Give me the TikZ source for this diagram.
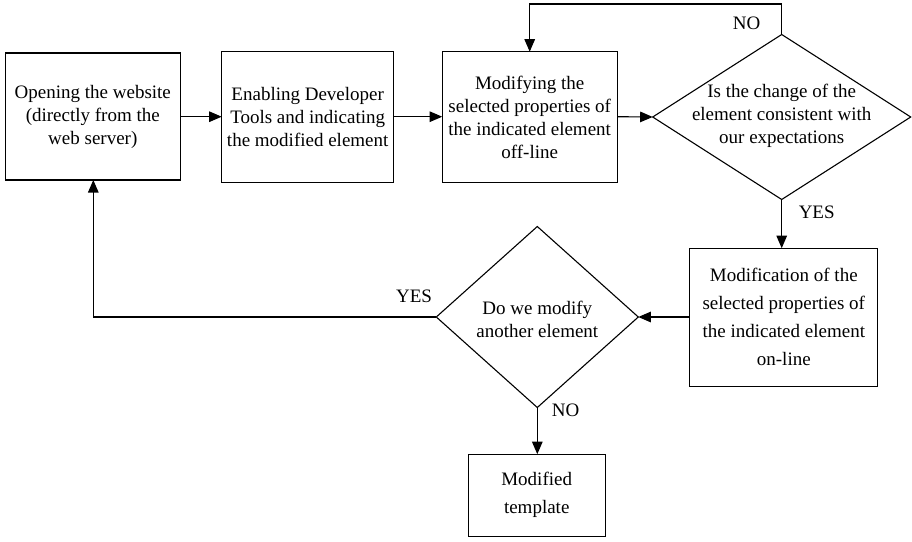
\documentclass[tikz,border=0pt]{standalone}
\usepackage{fontspec}
\setmainfont{Liberation Serif}
\usetikzlibrary{shapes.geometric,arrows.meta}
\begin{document}
\begin{tikzpicture}[x=1pt,y=-1pt,
  line width=1.1pt,
  every node/.style={font=\fontsize{19}{23}\selectfont, inner sep=0pt, outer sep=0pt},
  box/.style={draw, rectangle, align=center},
  widebox/.style={box, font=\fontsize{19}{28}\selectfont},
  txt/.style={align=center},
  lbl/.style={},
  arr/.style={-{Triangle[length=12.5pt,width=10.5pt]}}]
\useasboundingbox (0,0) rectangle (912,541);
\node[box, minimum width=175pt, minimum height=127pt] (b1) at (92.8,116.5)
  {Opening the website\\(directly from the\\web server)};
\node[box, minimum width=172pt, minimum height=131pt] (b2) at (307.7,117.3)
  {Enabling Developer\\Tools and indicating\\the modified element};
\node[box, minimum width=175pt, minimum height=131pt] (b3) at (529.7,117.2)
  {Modifying the\\selected properties of\\the indicated element\\off-line};
\node[draw, diamond, minimum width=258pt, minimum height=165pt] (d1) at (781.7,117) {};
\node[txt] at (781.7,116) {Is the change of the\\element consistent with\\our expectations};
\node[widebox, minimum width=188pt, minimum height=138pt] (b4) at (783.8,317.2)
  {Modification of the\\selected properties of\\the indicated element\\on-line};
\node[draw, diamond, minimum width=202pt, minimum height=181pt] (d2) at (537.3,317) {};
\node[txt] at (537.3,319) {Do we modify\\another element};
\node[widebox, minimum width=137pt, minimum height=82pt] (b5) at (536.7,495.2)
  {Modified\\template};
\coordinate (c1) at (781.7,4);
\coordinate (c2) at (529.7,4);
\coordinate (c3) at (93.3,317);
\draw[arr] (b1.east |- 0,116.7) -- (b2.west |- 0,116.7);
\draw[arr] (b2.east |- 0,116.7) -- (b3.west |- 0,116.7);
\draw[arr] (b3.east |- 0,116.7) -- (d1.west);
\draw[arr] (d1.north) -- (c1) -- (c2) -- (b3.north);
\draw[arr] (d1.south) -- (d1.south |- b4.north);
\draw[arr] (b4.west |- d2.east) -- (d2.east);
\draw[arr] (d2.west) -- (c3) -- (c3 |- b1.south);
\draw[arr] (d2.south) -- (d2.south |- b5.north);
\node[lbl] at (746.7,23) {NO};
\node[lbl] at (816.7,212.5) {YES};
\node[lbl] at (414,296.5) {YES};
\node[lbl] at (565.7,410) {NO};
\end{tikzpicture}
\end{document}
